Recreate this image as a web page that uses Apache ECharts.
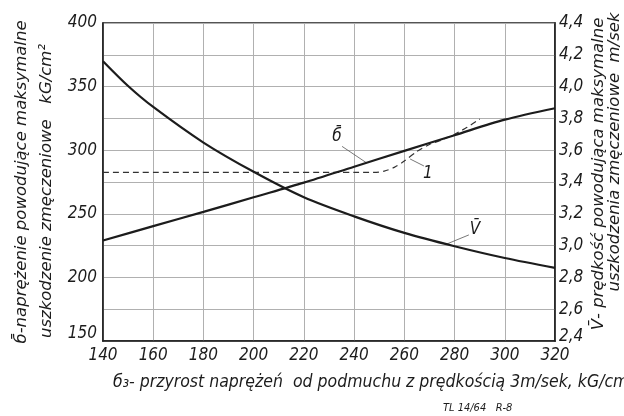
<!DOCTYPE html>
<html>
<head>
<meta charset="utf-8">
<script src="https://cdn.jsdelivr.net/npm/echarts@6/dist/echarts.min.js"></script>
<style>
  html, body { margin: 0; padding: 0; background: #fff; }
  #chart { width: 624px; height: 416px; }
</style>
</head>
<body>
<div id="chart"></div>
<script>
// Gust stress increment (kG/cm^2) on the horizontal axis
const xTicks = [140, 160, 180, 200, 220, 240, 260, 280, 300, 320];

// σ̄ – stress causing maximum fatigue damage, kG/cm^2 (left axis)
const sigmaX = [140, 160, 180, 200, 220, 240, 260, 280, 300, 320];
const sigmaBar = [229, 240.3, 251.5, 263, 274.5, 287, 299.5, 311.8, 324, 333];

// V̄ – gust velocity causing maximum fatigue damage, m/sek (right axis)
const vX = [140, 150, 160, 180, 200, 220, 240, 260, 280, 300, 320];
const vBar = [4.16, 4.004, 3.872, 3.648, 3.464, 3.304, 3.184, 3.08, 2.996, 2.922, 2.86];

// curve 1 – dashed comparison curve, kG/cm^2 (left axis)
const curve1X = [140, 248, 252, 256, 260, 265, 270, 275, 280, 285, 290];
const curve1Y = [282.5, 282.5, 283.5, 286.5, 291.5, 299, 304.5, 308, 312.5, 318, 324.5];

// axis ranges and tick labels
const leftTicks = [150, 200, 250, 300, 350, 400];
const rightTicks = ['2,4', '2,6', '2,8', '3,0', '3,2', '3,4', '3,6', '3,8', '4,0', '4,2', '4,4'];

const zip = (xs, ys) => xs.map((x, i) => [x, ys[i]]);

const FONT = '"DejaVu Sans Condensed", "Liberation Sans Narrow", "DejaVu Sans", sans-serif';
const TITLE_FONT = '"DejaVu Sans", sans-serif';
const INK = '#1c1c1c';
const GRID = '#b0b0b0';

const chart = echarts.init(document.getElementById('chart'), null, { renderer: 'canvas' });

const tickLabel = {
  color: INK, fontStyle: 'italic', fontFamily: FONT, fontSize: 17
};

chart.setOption({
  animation: false,
  backgroundColor: '#fff',
  grid: {
    left: 103, right: 69, top: 23, bottom: 75,
    show: true, borderColor: INK, borderWidth: 1.5, backgroundColor: 'transparent'
  },
  xAxis: {
    type: 'value', min: 140, max: 320, interval: 20,
    axisLine: { show: true, lineStyle: { color: INK, width: 1.5 } },
    axisTick: { show: false },
    axisLabel: Object.assign({ margin: 6,
      formatter: v => xTicks.includes(v) ? String(v) : '' }, tickLabel),
    splitLine: { show: true, lineStyle: { color: GRID, width: 1 } }
  },
  yAxis: [
    {
      type: 'value', min: 150, max: 400, interval: 25, position: 'left',
      axisLine: { show: true, lineStyle: { color: INK, width: 1.5 } },
      axisTick: { show: false },
      axisLabel: Object.assign({ margin: 6,
        formatter: v => leftTicks.includes(v) ? (v === 150 ? '{low|150}' : String(v)) : '',
        rich: { low: { fontStyle: 'italic', fontFamily: FONT, fontSize: 17, color: INK,
                       padding: [0, 0, 14, 0] } } }, tickLabel),
      splitLine: { show: true, lineStyle: { color: GRID, width: 1 } }
    },
    {
      type: 'value', min: 2.4, max: 4.4, interval: 0.2, position: 'right',
      axisLine: { show: true, lineStyle: { color: INK, width: 1.5 } },
      axisTick: { show: false },
      axisLabel: Object.assign({ margin: 4,
        formatter: v => {
          const i = Math.round((v - 2.4) / 0.2);
          return i === 0 ? '{low|' + rightTicks[0] + '}' : (rightTicks[i] || '');
        },
        rich: { low: { fontStyle: 'italic', fontFamily: FONT, fontSize: 17, color: INK,
                       padding: [0, 0, 8, 0] } } }, tickLabel),
      splitLine: { show: false }
    }
  ],
  series: [
    {
      name: 'σ̄', type: 'line', yAxisIndex: 0, smooth: 0.3, symbol: 'none',
      data: zip(sigmaX, sigmaBar),
      lineStyle: { color: INK, width: 2.2 }, z: 5
    },
    {
      name: 'V̄', type: 'line', yAxisIndex: 1, smooth: 0.3, symbol: 'none',
      data: zip(vX, vBar),
      lineStyle: { color: INK, width: 2.2 }, z: 5
    },
    {
      name: '1', type: 'line', yAxisIndex: 0, smooth: 0.25, symbol: 'none',
      data: zip(curve1X, curve1Y),
      lineStyle: { color: '#333', width: 1.2, type: [6, 4] }, z: 4
    }
  ]
});

// annotation labels with leader lines, placed in data units on the left axis
const notes = [
  { text: 'б̄', at: [233.2, 310.4], from: [235.2, 303], to: [245, 290] },
  { text: '1', at: [269.4, 282], from: [267.8, 287.6], to: [262.3, 293.1] },
  { text: 'V̄', at: [288.1, 237.3], from: [285.7, 233.4], to: [276.6, 226] }
];

const px = p => chart.convertToPixel({ xAxisIndex: 0, yAxisIndex: 0 }, p);
const graphics = [];
notes.forEach(n => {
  const a = px(n.at), f = px(n.from), t = px(n.to);
  graphics.push({
    type: 'text', x: a[0], y: a[1],
    style: { text: n.text, fill: INK, font: 'italic 17px ' + FONT,
             textAlign: 'center', textVerticalAlign: 'middle' }
  });
  graphics.push({
    type: 'line', shape: { x1: f[0], y1: f[1], x2: t[0], y2: t[1] },
    style: { stroke: '#555', lineWidth: 0.8 }
  });
});

// axis titles
const sideFont = 'italic 16.5px ' + TITLE_FONT;
graphics.push(
  { type: 'text', x: 22, y: 182, rotation: Math.PI / 2,
    style: { text: 'б̄-naprężenie powodujące maksymalne', fill: INK, font: sideFont,
             textAlign: 'center', textVerticalAlign: 'middle' } },
  { type: 'text', x: 47, y: 191, rotation: Math.PI / 2,
    style: { text: 'uszkodzenie zmęczeniowe   kG/cm²', fill: INK, font: sideFont,
             textAlign: 'center', textVerticalAlign: 'middle' } },
  { type: 'text', x: 599, y: 174, rotation: Math.PI / 2,
    style: { text: 'V̄- prędkość powodująca maksymalne', fill: INK, font: sideFont,
             textAlign: 'center', textVerticalAlign: 'middle' } },
  { type: 'text', x: 615, y: 152, rotation: Math.PI / 2,
    style: { text: 'uszkodzenia zmęczeniowe  m/sek', fill: INK, font: sideFont,
             textAlign: 'center', textVerticalAlign: 'middle' } },
  { type: 'text', x: 113, y: 382,
    style: { text: 'б₃- przyrost naprężeń  od podmuchu z prędkością 3m/sek, kG/cm²',
             fill: INK, font: 'italic 17.5px ' + FONT, textAlign: 'left', textVerticalAlign: 'middle' } },
  { type: 'text', x: 443, y: 408,
    style: { text: 'TL 14/64   R-8', fill: INK, font: 'italic 11px ' + FONT,
             textAlign: 'left', textVerticalAlign: 'middle' } }
);

chart.setOption({ graphic: graphics });
</script>
</body>
</html>
